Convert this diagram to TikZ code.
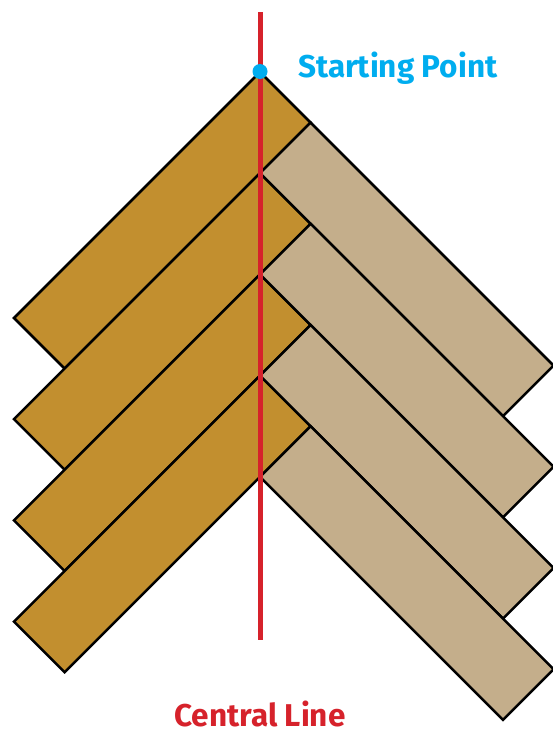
\documentclass[tikz,border=0pt]{standalone}
\usepackage{fontspec}
\setmainfont{Fira Sans}
\definecolor{darkwood}{HTML}{C28F2F}
\definecolor{lightwood}{HTML}{C4AE8B}
\definecolor{linered}{HTML}{D6222B}
\definecolor{dotblue}{HTML}{00ADEF}
\begin{document}
\begin{tikzpicture}[x=1pt,y=-1pt,
  plank/.style={draw=black,line width=2.5pt,line join=miter},
  lbl/.style={font=\fontsize{31.5}{32}\selectfont\bfseries,inner sep=0pt}]
\useasboundingbox (0,0) rectangle (553,731);
\def\w{50.6}
\foreach \i in {0,...,3}{
  \pgfmathsetmacro\t{72+101.2*\i}
  \draw[plank,fill=darkwood] (260,\t) -- ++(\w,\w) -- ++(-246,246) -- ++(-\w,-\w) -- cycle;
}
\foreach \i in {0,...,3}{
  \pgfmathsetmacro\t{72+\w+101.2*\i}
  \draw[plank,fill=lightwood] (260+\w,\t) -- ++(243,243) -- ++(-\w,\w) -- ++(-243,-243) -- cycle;
}
\coordinate (top) at (260,12);
\coordinate (bot) at (260,640);
\draw[linered,line width=5pt] (top) -- (bot);
\fill[dotblue] (260,71.5) circle (7.5);
\node[lbl,text=dotblue,anchor=base west] (sp) at (298,77) {Starting Point};
\node[lbl,text=linered,anchor=base] (cl) at (260,726) {Central Line};
\end{tikzpicture}
\end{document}
